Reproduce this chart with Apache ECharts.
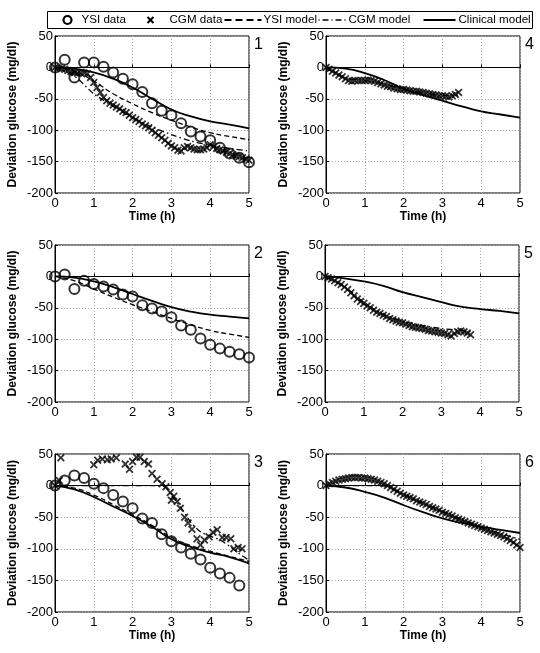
<!DOCTYPE html>
<html><head><meta charset="utf-8">
<script src="https://cdn.jsdelivr.net/npm/echarts@6/dist/echarts.min.js"></script>
<style>html,body{margin:0;padding:0;background:#fff}#c{width:540px;height:653px}</style>
</head><body><div id="c"></div><script>
// ---- data ----
const ysiT = [0,0.25,0.5,0.75,1,1.25,1.5,1.75,2,2.25,2.5,2.75,3,3.25,3.5,3.75,4,4.25,4.5,4.75,5];
const ysi1 = [0,12,-16,8,8,1,-8,-18,-27,-39,-57,-69,-76,-89,-102,-110,-116,-128,-137,-144,-151];
const ysi2 = [0,3,-20,-7,-12,-16,-21,-29,-32,-46,-51,-56,-65,-78,-85,-99,-109,-115,-120,-124,-129];
const ysi3 = [0,8,16,12,3,-4,-15,-25,-36,-52,-59,-77,-88,-98,-108,-117,-130,-139,-146,-158];

// CGM readings every 5 minutes
const cgm1 = [0,-1,-2,-3,-5,-7,-8,-9,-9,-9,-10,-16,-24,-32,-40,-48,-53,-57,-60,-63,-66,-70,-72,-76,-80,-83,-86,-90,-93,-96,-100,-104,-108,-112,-116,-121,-125,-128,-132,-133,-128,-126,-128,-130,-131,-131,-130,-128,-123,-126,-129,-131,-133,-135,-137,-139,-141,-142,-144,-146,-148];
const cgm4 = [0,-3,-6,-9,-12,-15,-18,-21,-22,-21,-21,-21,-21,-20,-21,-22,-24,-26,-28,-30,-31,-33,-34,-35,-35,-36,-37,-38,-38,-39,-40,-41,-42,-43,-44,-45,-45,-46,-47,-45,-43,-40];
const cgm5 = [0,-2,-4,-7,-10,-13,-17,-21,-26,-31,-36,-40,-43,-47,-50,-54,-57,-59,-62,-64,-67,-69,-71,-73,-74,-76,-78,-80,-81,-82,-83,-84,-86,-87,-88,-89,-90,-91,-93,-95,-91,-88,-87,-88,-90,-93];
const cgm6 = [0,3,5,7,9,10,11,12,13,13,13,12,12,11,10,9,7,5,3,0,-3,-6,-9,-12,-15,-17,-19,-21,-24,-26,-28,-30,-33,-35,-37,-39,-42,-44,-46,-48,-51,-53,-55,-57,-59,-61,-63,-65,-67,-69,-71,-73,-75,-77,-79,-81,-84,-87,-90,-94,-98];
const cgm3T = [0,0.11,0.15,1.0,1.1,1.22,1.35,1.45,1.58,1.81,1.92,2.0,2.1,2.19,2.3,2.41,2.5,2.63,2.76,2.86,2.97,3.0,3.06,3.15,3.23,3.34,3.43,3.53,3.66,3.75,3.85,3.97,4.07,4.18,4.31,4.41,4.53,4.61,4.72,4.82];
const cgm3V = [0,8,44,33,40,42,41,42,44,34,26,38,45,45,38,34,19,10,3,-2,-11,-23,-17,-25,-36,-50,-59,-69,-84,-94,-86,-81,-74,-70,-82,-82,-84,-100,-98,-100];

// model curves
const modelT = [0,0.5,1,1.5,2,2.5,3,3.5,4,4.5,5];
const clin1 = [0,-2,-8,-18,-32,-50,-67,-78,-86,-91,-97];
const ysiM1 = [0,-6,-22,-42,-58,-72,-84,-95,-104,-110,-115];
const cgmM1 = [0,-14,-42,-62,-80,-95,-107,-117,-124,-129,-133];
const clin2 = [0,-2,-8,-17,-28,-39,-49,-56,-61,-64,-67];
const ysiM2 = [0,-7,-20,-33,-45,-56,-67,-77,-86,-92,-97];
const clin3 = [0,-6,-18,-33,-48,-65,-85,-97,-106,-113,-123];
const ysiM3 = [0,-4,-15,-30,-46,-63,-82,-95,-104,-112,-120];
const cgmM3T = [0,0.5,1,1.5,2,2.5,2.7,2.85,3,3.25,3.5,3.75,4,4.25,4.5,4.75,5];
const cgmM3 = [0,0,0,0,0,0,0,-3,-15,-35,-58,-73,-80,-86,-96,-108,-118];
const clin4 = [0,-2,-9,-20,-34,-44,-53,-62,-70,-75,-80];
const cgmM4T = [0,0.5,1,1.5,2,2.5,3,3.4];
const cgmM4 = [0,-17,-21,-26,-35,-40,-45,-45];
const clin5 = [0,-3,-8,-15,-25,-33,-41,-48,-52,-55,-59];
const cgmM5T = [0,0.5,1,1.5,2,2.5,3,3.5,3.75];
const cgmM5 = [0,-16,-41,-60,-71,-78,-83,-86,-88];
const clin6 = [0,-3,-10,-19,-31,-42,-52,-59,-65,-70,-75];
const cgmM6T = [0,0.5,1,1.4,1.6,2,2.5,3,3.5,4,4.5,5];
const cgmM6 = [0,0,0,0,-2,-14,-28,-41,-54,-66,-76,-85];

const panelLabels = ['1','2','3','4','5','6'];
const legendNames = ['YSI data','CGM data','YSI model','CGM model','Clinical model'];
const xAxisTitle = 'Time (h)';
const yAxisTitle = 'Deviation glucose (mg/dl)';

// ---- helpers ----
const pair = (ts, vs) => vs.map((v, i) => [ts[i], v]);
const every5 = vs => vs.map((v, i) => [i * 5 / 60, v]);
const FONT = 'Liberation Sans, Arial, sans-serif';
const XMARK = 'path://M0,1.6L1.6,0L5,3.4L8.4,0L10,1.6L6.6,5L10,8.4L8.4,10L5,6.6L1.6,10L0,8.4L3.4,5Z';

const grids = [
  {left:55, top:36, width:194, height:157},
  {left:55, top:245, width:194, height:157},
  {left:55, top:454, width:194, height:158},
  {left:326, top:36, width:194, height:157},
  {left:325, top:245, width:194, height:157},
  {left:326, top:454, width:194, height:158}
];
const showXName = [true, false, true, true, false, true];

const panelData = [
  {ysi: pair(ysiT, ysi1), cgm: every5(cgm1), ysiM: pair(modelT, ysiM1), cgmM: pair(modelT, cgmM1), clin: pair(modelT, clin1)},
  {ysi: pair(ysiT, ysi2), ysiM: pair(modelT, ysiM2), clin: pair(modelT, clin2)},
  {ysi: pair(ysiT, ysi3), cgm: pair(cgm3T, cgm3V), ysiM: pair(modelT, ysiM3), cgmM: pair(cgmM3T, cgmM3), clin: pair(modelT, clin3)},
  {cgm: every5(cgm4), cgmM: pair(cgmM4T, cgmM4), clin: pair(modelT, clin4)},
  {cgm: every5(cgm5), cgmM: pair(cgmM5T, cgmM5), clin: pair(modelT, clin5)},
  {cgm: every5(cgm6), cgmM: pair(cgmM6T, cgmM6), clin: pair(modelT, clin6)}
];

const series = [];
const xAxes = [], yAxes = [], graphics = [];
grids.forEach((g, i) => {
  xAxes.push({
    type:'value', gridIndex:i, min:0, max:5, interval:1,
    name: showXName[i] ? xAxisTitle : '', nameLocation:'middle', nameGap:17,
    nameTextStyle:{fontFamily:FONT, fontWeight:'bold', fontSize:12, color:'#000'},
    axisLine:{lineStyle:{color:'#000'}},
    axisTick:{inside:true, length:3, lineStyle:{color:'#000'}},
    axisLabel:{fontFamily:FONT, fontSize:13, color:'#000', margin:4},
    splitLine:{show:true, lineStyle:{color:'#aaa', type:[1,2]}}
  });
  yAxes.push({
    type:'value', gridIndex:i, min:-200, max:50, interval:50,
    name: yAxisTitle, nameLocation:'middle', nameGap:36, nameRotate:90,
    nameTextStyle:{fontFamily:FONT, fontWeight:'bold', fontSize:12, color:'#000'},
    axisLine:{show:true, lineStyle:{color:'#000'}},
    axisTick:{show:true, inside:true, length:3, lineStyle:{color:'#000'}},
    axisLabel:{fontFamily:FONT, fontSize:13, color:'#000', margin:2},
    splitLine:{show:true, lineStyle:{color:'#aaa', type:[1,2]}}
  });
  graphics.push({type:'text', left: g.left + g.width + 5, top: g.top + 1,
    style:{text: panelLabels[i], fontFamily:FONT, fontSize:16, fill:'#000'}});
  const d = panelData[i];
  if (d.clin) series.push({name:legendNames[4], type:'line', xAxisIndex:i, yAxisIndex:i, data:d.clin,
    smooth:true, symbol:'none', lineStyle:{color:'#000', width:1.8, type:'solid'}, z:2});
  if (d.ysiM) series.push({name:legendNames[2], type:'line', xAxisIndex:i, yAxisIndex:i, data:d.ysiM,
    smooth:true, symbol:'none', lineStyle:{color:'#000', width:1.3, type:[5,3]}, z:2});
  if (d.cgmM) series.push({name:legendNames[3], type:'line', xAxisIndex:i, yAxisIndex:i, data:d.cgmM,
    smooth:0.3, symbol:'none', lineStyle:{color:'#000', width:1.3, type:[6,3,1.5,3]}, z:2});
  if (d.ysi) series.push({name:legendNames[0], type:'scatter', xAxisIndex:i, yAxisIndex:i, data:d.ysi,
    symbol:'circle', symbolSize:10, itemStyle:{color:'rgba(255,255,255,0)', borderColor:'#000', borderWidth:2}, z:3});
  if (d.cgm) series.push({name:legendNames[1], type:'scatter', xAxisIndex:i, yAxisIndex:i, data:d.cgm,
    symbol:XMARK, symbolSize:8, itemStyle:{color:'#000'}, z:3});
});

// legend box (drawn as graphic, texts are real text)
const LY = 19.5;
const ltext = (x, s) => ({type:'text', x:x, y:LY, style:{text:s, fontFamily:FONT, fontSize:11.6, fill:'#000', verticalAlign:'middle', textAlign:'left'}});
graphics.push(
  {type:'group', left:47, top:11, z:10, children:[
    {type:'rect', shape:{x:47, y:11, width:485, height:17}, style:{fill:'#fff', stroke:'#000', lineWidth:1}},
    {type:'circle', shape:{cx:67, cy:LY, r:4}, style:{fill:'none', stroke:'#000', lineWidth:2.2}},
    ltext(81, legendNames[0]),
    {type:'line', shape:{x1:147, y1:LY-3, x2:153, y2:LY+3}, style:{stroke:'#000', lineWidth:2}},
    {type:'line', shape:{x1:147, y1:LY+3, x2:153, y2:LY-3}, style:{stroke:'#000', lineWidth:2}},
    ltext(169, legendNames[1]),
    {type:'line', shape:{x1:224, y1:LY, x2:261, y2:LY}, style:{stroke:'#000', lineWidth:2, lineDash:[7,4]}},
    ltext(263, legendNames[2]),
    {type:'line', shape:{x1:318, y1:LY, x2:346, y2:LY}, style:{stroke:'#000', lineWidth:1.5, lineDash:[1,3,6,3]}},
    ltext(348, legendNames[3]),
    {type:'line', shape:{x1:423, y1:LY, x2:455, y2:LY}, style:{stroke:'#000', lineWidth:2}},
    ltext(458, legendNames[4])
  ]}
);

const chart = echarts.init(document.getElementById('c'), null, {renderer:'canvas'});
chart.setOption({
  animation:false,
  backgroundColor:'#fff',
  grid: grids.map(g => Object.assign({show:true, borderColor:'#000', borderWidth:1, backgroundColor:'#fff'}, g)),
  xAxis: xAxes, yAxis: yAxes,
  graphic: graphics,
  series: series
});
</script></body></html>
